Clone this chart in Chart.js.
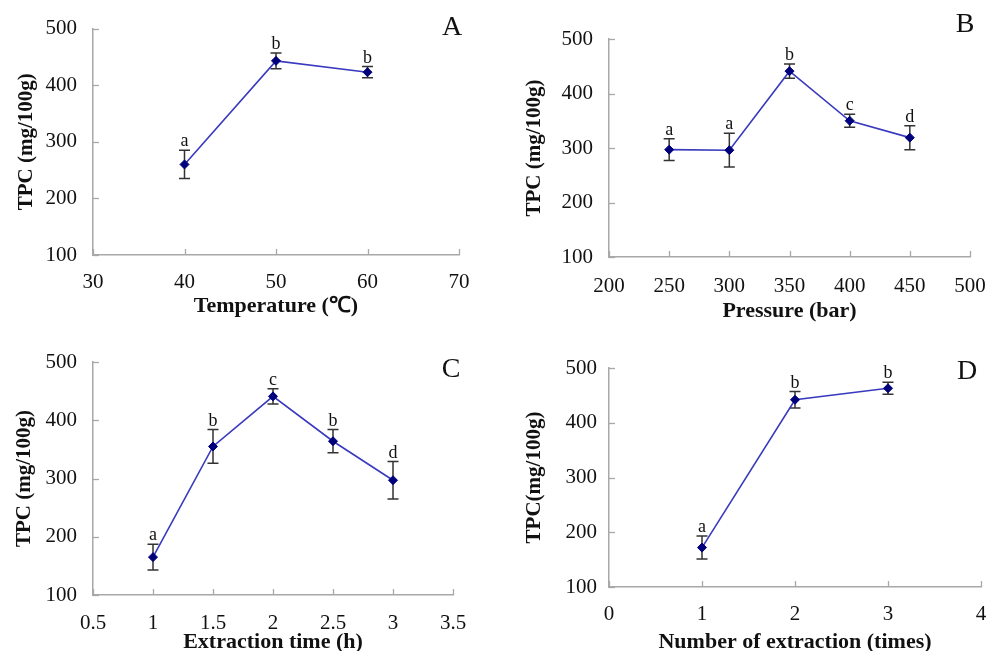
<!DOCTYPE html>
<html>
<head>
<meta charset="utf-8">
<script src="https://cdn.jsdelivr.net/npm/chart.js@4.4.1/dist/chart.umd.min.js"></script>
<style>
html,body{margin:0;padding:0;background:#fff;width:987px;height:651px;overflow:hidden;position:relative;}
canvas{position:absolute;}
</style>
</head>
<body>
<canvas id="cA"></canvas>
<canvas id="cB"></canvas>
<canvas id="cC"></canvas>
<canvas id="cD"></canvas>
<script>
// ---------- DATA ----------
// Panel A: temperature
const tempX = [40, 50, 60];
const tempY = [260, 443, 423];
const tempErr = [25, 14, 10];
const tempLetters = ['a', 'b', 'b'];
// Panel B: pressure
const pressX = [250, 300, 350, 400, 450];
const pressY = [297, 296, 441, 350, 319];
const pressErr = [20, 31, 13, 12, 22];
const pressLetters = ['a', 'a', 'b', 'c', 'd'];
// Panel C: extraction time
const timeX = [1, 1.5, 2, 2.5, 3];
const timeY = [165, 355, 441, 364, 297];
const timeErr = [22, 29, 13, 20, 32];
const timeLetters = ['a', 'b', 'c', 'b', 'd'];
// Panel D: number of extraction
const numX = [1, 2, 3];
const numY = [172, 442, 463];
const numErr = [21, 15, 11];
const numLetters = ['a', 'b', 'b'];

// axis ranges / labels
const yRange = {min: 100, max: 500, step: 100};
const tempRange = {min: 30, max: 70, step: 10};
const pressRange = {min: 200, max: 500, step: 50};
const timeRange = {min: 0.5, max: 3.5, step: 0.5};
const numRange = {min: 0, max: 4, step: 1};
const yTitleA = 'TPC (mg/100g)';
const yTitleD = 'TPC(mg/100g)';
const xTitles = ['Temperature (\u2103)', 'Pressure (bar)', 'Extraction time (h)', 'Number of extraction (times)'];
const panelLabels = ['A', 'B', 'C', 'D'];

// ---------- RENDER ----------
const FONT = "'Liberation Serif','Times New Roman',serif";
const AXIS_COLOR = '#a8a8a8';

const decoPlugin = {
  id: 'deco',
  beforeDatasetsDraw(chart, args, o) {
    const ctx = chart.ctx, xs = chart.scales.x, ys = chart.scales.y;
    ctx.save();
    // inward tick marks
    ctx.strokeStyle = AXIS_COLOR; ctx.lineWidth = 1.3;
    xs.ticks.forEach(t => {
      const px = Math.round(xs.getPixelForValue(t.value)) + 0.5;
      ctx.beginPath(); ctx.moveTo(px, ys.bottom); ctx.lineTo(px, ys.bottom - 6); ctx.stroke();
    });
    ys.ticks.forEach(t => {
      const py = Math.round(ys.getPixelForValue(t.value)) + 0.5;
      ctx.beginPath(); ctx.moveTo(xs.left, py); ctx.lineTo(xs.left + 6, py); ctx.stroke();
    });
    // error bars
    const ds = chart.data.datasets[0].data;
    ctx.strokeStyle = '#333'; ctx.lineWidth = 1.5;
    ds.forEach((p, i) => {
      const px = xs.getPixelForValue(p.x);
      const top = ys.getPixelForValue(p.y + o.err[i]);
      const bot = ys.getPixelForValue(p.y - o.err[i]);
      ctx.beginPath();
      ctx.moveTo(px, top); ctx.lineTo(px, bot);
      ctx.moveTo(px - 5.5, top); ctx.lineTo(px + 5.5, top);
      ctx.moveTo(px - 5.5, bot); ctx.lineTo(px + 5.5, bot);
      ctx.stroke();
    });
    ctx.restore();
  },
  afterDatasetsDraw(chart, args, o) {
    const ctx = chart.ctx, xs = chart.scales.x, ys = chart.scales.y;
    const ds = chart.data.datasets[0].data;
    ctx.save();
    ctx.fillStyle = '#111';
    ctx.font = '18px ' + FONT;
    ctx.textAlign = 'center'; ctx.textBaseline = 'alphabetic';
    ds.forEach((p, i) => {
      const px = xs.getPixelForValue(p.x);
      const top = ys.getPixelForValue(p.y + o.err[i]);
      ctx.fillText(o.letters[i], px, top - 4);
    });
    ctx.font = '28px ' + FONT;
    ctx.textBaseline = 'middle';
    ctx.fillText(o.panel, o.panelPos[0], o.panelPos[1]);
    ctx.restore();
  }
};

function makePanel(id, rect, area, xr, xs, ys, letters, err, xTitle, yTitle, panel, panelPos, pads) {
  const cv = document.getElementById(id);
  cv.width = rect.w; cv.height = rect.h;
  cv.style.left = rect.x + 'px'; cv.style.top = rect.y + 'px';
  cv.style.width = rect.w + 'px'; cv.style.height = rect.h + 'px';
  const yWidth = area.l - rect.x;
  const xHeight = rect.y + rect.h - area.b;
  const data = xs.map((v, i) => ({x: v, y: ys[i]}));
  new Chart(cv, {
    type: 'line',
    data: {datasets: [{
      data: data,
      borderColor: '#3a3abf',
      borderWidth: 1.6,
      pointStyle: 'rectRot',
      pointRadius: 4.5,
      pointBackgroundColor: '#00007a',
      pointBorderColor: '#00007a',
      pointBorderWidth: 1,
      tension: 0,
      fill: false
    }]},
    options: {
      responsive: false,
      animation: false,
      devicePixelRatio: 1,
      layout: {padding: {left: 0, top: area.t - rect.y, right: rect.x + rect.w - area.r, bottom: 0}},
      plugins: {
        legend: {display: false},
        tooltip: {enabled: false},
        deco: {err: err, letters: letters, panel: panel, panelPos: panelPos}
      },
      scales: {
        x: {
          type: 'linear', position: 'bottom',
          min: xr.min, max: xr.max,
          grid: {display: false, drawTicks: false},
          border: {display: true, color: AXIS_COLOR, width: 1.5},
          ticks: {stepSize: xr.step, color: '#111', font: {family: FONT, size: 21}, padding: pads.xt, maxRotation: 0, autoSkip: false,
                  callback: v => String(v)},
          title: {display: true, text: xTitle, color: '#111', font: {family: FONT, size: 22, weight: 'bold'}, padding: {top: 0, bottom: pads.xtitle}},
          afterFit: s => { s.height = xHeight; }
        },
        y: {
          type: 'linear', position: 'left',
          min: yRange.min, max: yRange.max,
          grid: {display: false, drawTicks: false},
          border: {display: true, color: AXIS_COLOR, width: 1.5},
          ticks: {stepSize: yRange.step, color: '#111', font: {family: FONT, size: 21}, padding: pads.yt},
          title: {display: true, text: yTitle, color: '#111', font: {family: FONT, size: 21, weight: 'bold'}, padding: {top: pads.ytitle, bottom: 0}},
          afterFit: s => { s.width = yWidth; }
        }
      }
    },
    plugins: [decoPlugin]
  });
}

makePanel('cA', {x: 0, y: 0, w: 490, h: 325}, {l: 93, t: 24, r: 459, b: 255},
  tempRange, tempX, tempY, tempLetters, tempErr, xTitles[0], yTitleA, panelLabels[0], [452, 28],
  {xt: 15, xtitle: 5, yt: 16, ytitle: 14});
makePanel('cB', {x: 500, y: 0, w: 520, h: 325}, {l: 609, t: 39, r: 970, b: 257},
  pressRange, pressX, pressY, pressLetters, pressErr, xTitles[1], yTitleA, panelLabels[1], [465, 25],
  {xt: 17, xtitle: 0, yt: 16, ytitle: 22});
makePanel('cC', {x: 0, y: 325, w: 490, h: 340}, {l: 93, t: 362, r: 453, b: 595},
  timeRange, timeX, timeY, timeLetters, timeErr, xTitles[2], yTitleA, panelLabels[2], [451, 45],
  {xt: 16, xtitle: 9, yt: 16, ytitle: 12});
makePanel('cD', {x: 500, y: 325, w: 520, h: 340}, {l: 609, t: 368, r: 981, b: 587},
  numRange, numX, numY, numLetters, numErr, xTitles[3], yTitleD, panelLabels[3], [467, 47],
  {xt: 15, xtitle: 9, yt: 12, ytitle: 22});
</script>
</body>
</html>
